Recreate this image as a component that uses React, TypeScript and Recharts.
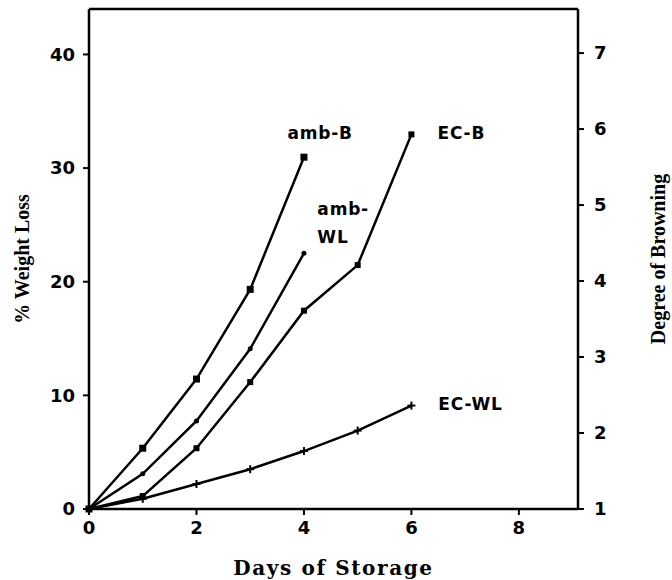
import React from 'react';
import { LineChart, Line, XAxis, YAxis, ReferenceLine, ReferenceDot } from 'recharts';

// days of storage
const daysAmb = [0, 1, 2, 3, 4];
const daysEC = [0, 1, 2, 3, 4, 5, 6];

// degree of browning (right axis)
const ambB = [1, 1.8, 2.71, 3.89, 5.63];
const ecB = [1, 1.17, 1.8, 2.67, 3.61, 4.21, 5.93];

// % weight loss (left axis)
const ambWL = [0, 3.1, 7.75, 14.1, 22.5];
const ecWL = [0, 0.9, 2.2, 3.5, 5.1, 6.9, 9.1];

const xTicks = [0, 2, 4, 6, 8];
const leftTicks = [0, 10, 20, 30, 40];
const rightTicks = [1, 2, 3, 4, 5, 6, 7];

const toRows = (days: number[], vals: number[]) => days.map((d, i) => ({ day: d, v: vals[i] }));

const tickFont = { fontSize: 18, fontWeight: 700, fill: '#000', fontFamily: 'DejaVu Sans' };
const tagStyle = { fontSize: 17, fontWeight: 700, fill: '#000', fontFamily: 'DejaVu Sans', letterSpacing: 0.8 };

const Square = (size: number) => (props: any) => {
  const { cx, cy } = props;
  if (cx == null || cy == null) return null;
  return <rect x={cx - size / 2} y={cy - size / 2} width={size} height={size} fill="#000" />;
};

const Plus = (props: any) => {
  const { cx, cy } = props;
  if (cx == null || cy == null) return null;
  return (
    <g stroke="#000" strokeWidth={2}>
      <line x1={cx - 4} y1={cy} x2={cx + 4} y2={cy} />
      <line x1={cx} y1={cy - 4} x2={cx} y2={cy + 4} />
    </g>
  );
};

const SmallDot = (props: any) => {
  const { cx, cy } = props;
  if (cx == null || cy == null) return null;
  return <circle cx={cx} cy={cy} r={2.5} fill="#000" />;
};

const VTitle = ({ viewBox, text, dx }: any) => {
  const x = viewBox.x + dx;
  const y = viewBox.y + viewBox.height / 2;
  return (
    <text
      x={x}
      y={y}
      transform={`rotate(-90 ${x} ${y})`}
      textAnchor="middle"
      dominantBaseline="central"
      fontFamily="Liberation Serif"
      fontWeight={700}
      fontSize={20}
      fill="#000"
    >
      {text}
    </text>
  );
};

export default function App() {
  return (
    <div style={{ position: 'absolute', left: 0, top: 0, background: '#fff' }}>
      <LineChart width={672} height={580} margin={{ top: 9, right: 0, bottom: 0, left: 0 }}>
        <XAxis
          type="number"
          dataKey="day"
          domain={[0, 9.1]}
          ticks={xTicks}
          allowDuplicatedCategory={false}
          height={71}
          tick={tickFont}
          tickMargin={6}
          axisLine={{ stroke: '#000', strokeWidth: 2.5 }}
          tickLine={{ stroke: '#000', strokeWidth: 2 }}
          label={{
            value: 'Days of Storage',
            position: 'insideBottom',
            offset: 5,
            fontFamily: 'DejaVu Serif',
            fontWeight: 700,
            fontSize: 20,
            fill: '#000',
            letterSpacing: 1.6,
          }}
        />
        <YAxis
          yAxisId="left"
          type="number"
          domain={[0, 44]}
          ticks={leftTicks}
          width={89}
          tick={tickFont}
          tickMargin={8}
          axisLine={{ stroke: '#000', strokeWidth: 2.5 }}
          tickLine={{ stroke: '#000', strokeWidth: 2 }}
          label={(p: any) => <VTitle viewBox={p.viewBox} text="% Weight Loss" dx={22} />}
        />
        <YAxis
          yAxisId="right"
          orientation="right"
          type="number"
          domain={[1, 7.58]}
          ticks={rightTicks}
          width={94}
          tick={tickFont}
          tickMargin={10}
          axisLine={{ stroke: '#000', strokeWidth: 2.5 }}
          tickLine={{ stroke: '#000', strokeWidth: 2 }}
          label={(p: any) => <VTitle viewBox={p.viewBox} text="Degree of Browning" dx={80} />}
        />
        <ReferenceLine yAxisId="left" y={44} stroke="#000" strokeWidth={2.5} />

        <Line
          yAxisId="right"
          data={toRows(daysAmb, ambB)}
          dataKey="v"
          stroke="#000"
          strokeWidth={2.5}
          dot={Square(7)}
          isAnimationActive={false}
        />
        <Line
          yAxisId="left"
          data={toRows(daysAmb, ambWL)}
          dataKey="v"
          stroke="#000"
          strokeWidth={2.5}
          dot={SmallDot}
          isAnimationActive={false}
        />
        <Line
          yAxisId="right"
          data={toRows(daysEC, ecB)}
          dataKey="v"
          stroke="#000"
          strokeWidth={2.5}
          dot={Square(6)}
          isAnimationActive={false}
        />
        <Line
          yAxisId="left"
          data={toRows(daysEC, ecWL)}
          dataKey="v"
          stroke="#000"
          strokeWidth={2.5}
          dot={Plus}
          isAnimationActive={false}
        />

        <ReferenceDot yAxisId="left" x={4.3} y={33.1} r={0} fill="none" stroke="none"
          label={{ value: 'amb-B', position: 'center', ...tagStyle }} />
        <ReferenceDot yAxisId="left" x={4.73} y={26.4} r={0} fill="none" stroke="none"
          label={{ value: 'amb-', position: 'center', ...tagStyle }} />
        <ReferenceDot yAxisId="left" x={4.54} y={23.9} r={0} fill="none" stroke="none"
          label={{ value: 'WL', position: 'center', ...tagStyle }} />
        <ReferenceDot yAxisId="left" x={6.93} y={33.1} r={0} fill="none" stroke="none"
          label={{ value: 'EC-B', position: 'center', ...tagStyle }} />
        <ReferenceDot yAxisId="left" x={7.1} y={9.24} r={0} fill="none" stroke="none"
          label={{ value: 'EC-WL', position: 'center', ...tagStyle }} />
      </LineChart>
    </div>
  );
}
